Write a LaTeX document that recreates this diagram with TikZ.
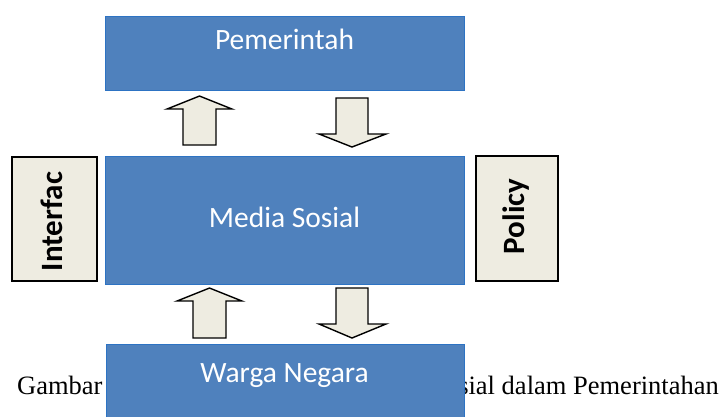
\documentclass[tikz,border=0pt]{standalone}
\usepackage{fontspec}
\setmainfont{Liberation Serif}
\newfontfamily\calib{Carlito}
\definecolor{boxblue}{RGB}{79,129,189}
\definecolor{boxedge}{RGB}{45,115,195}
\definecolor{paleface}{RGB}{238,236,225}
\begin{document}
\begin{tikzpicture}[x=1pt,y=-1pt,
  bluebox/.style={draw=boxedge,line width=0.8pt,fill=boxblue,inner sep=0pt,outer sep=0pt,anchor=north west},
  sidebox/.style={draw=black,line width=1.4pt,fill=paleface,inner sep=0pt,outer sep=0pt,anchor=north west},
  boxtext/.style={text=white,font=\calib\fontsize{29.5}{33}\selectfont,inner sep=0pt,anchor=base},
  sidetext/.style={text=black,font=\calib\bfseries\fontsize{31}{35}\selectfont,inner sep=0pt,anchor=base,rotate=90},
  blockarrow/.style={draw=black,line width=1.4pt,fill=paleface,line join=miter},
  captext/.style={font=\fontsize{26.5}{30}\selectfont,inner sep=0pt}]
\useasboundingbox (0,0) rectangle (720,416);
\clip (0,0) rectangle (720,416);
% caption (partly hidden behind the lower box)
\node[captext,anchor=base west] (capL) at (17,394) {Gambar};
\node[captext,anchor=base east] (capR) at (719,394) {Sosial dalam Pemerintahan};
% blue boxes
\node[bluebox,minimum width=359pt,minimum height=74pt] (pem) at (105,16) {};
\node[boxtext] (pemt) at (284.5,49) {Pemerintah};
\node[bluebox,minimum width=359pt,minimum height=128pt] (med) at (105,156) {};
\node[boxtext] (medt) at (284.5,227) {Media Sosial};
\node[bluebox,minimum width=358pt,minimum height=90pt] (war) at (106,344) {};
\node[boxtext] (wart) at (284.5,382) {Warga Negara};
% side boxes
\node[sidebox,minimum width=85pt,minimum height=124pt] (intf) at (12,157) {};
\node[sidetext] (intft) at (62,221.5) {Interfac};
\node[sidebox,minimum width=82pt,minimum height=125pt] (pol) at (476,156) {};
\node[sidetext] (polt) at (524,216.5) {Policy};
% block arrows
\draw[blockarrow] (183,145) -- (183,109) -- (167,109) -- (199.5,96) -- (232,109) -- (216,109) -- (216,145) -- cycle;
\draw[blockarrow] (336,98) -- (336,134) -- (319,134) -- (352,147) -- (386,134) -- (368,134) -- (368,98) -- cycle;
\draw[blockarrow] (193,338) -- (193,301) -- (177,301) -- (209.5,288) -- (242,301) -- (226,301) -- (226,338) -- cycle;
\draw[blockarrow] (336,288) -- (336,324) -- (319,324) -- (352,338) -- (386,324) -- (368,324) -- (368,288) -- cycle;
\end{tikzpicture}
\end{document}
